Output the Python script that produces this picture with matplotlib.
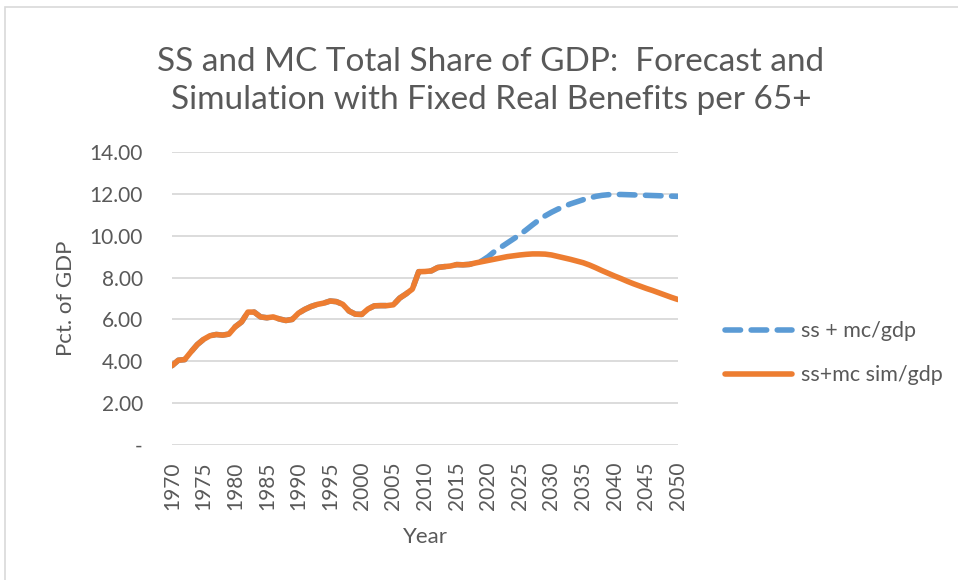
import matplotlib.pyplot as plt
import numpy as np
from matplotlib.patches import Rectangle

plt.rcParams['font.family'] = ['Lato', 'DejaVu Sans']

# annual data, 1970-2050
years = np.arange(1970, 2051)

sim = [3.79, 4.05, 4.08, 4.45, 4.80, 5.05, 5.22, 5.28, 5.25, 5.30,
       5.65, 5.88, 6.35, 6.35, 6.12, 6.08, 6.12, 6.02, 5.95, 6.00,
       6.30, 6.48, 6.62, 6.72, 6.78, 6.88, 6.85, 6.72, 6.40, 6.25,
       6.24, 6.50, 6.65, 6.66, 6.66, 6.70, 7.02, 7.22, 7.45, 8.28,
       8.29, 8.32, 8.48, 8.52, 8.55, 8.62, 8.61, 8.63, 8.70, 8.76,
       8.82, 8.88, 8.94, 9.00, 9.04, 9.08, 9.11, 9.13, 9.13, 9.12,
       9.08, 9.01, 8.94, 8.87, 8.79, 8.71, 8.60, 8.47, 8.33, 8.20,
       8.07, 7.95, 7.82, 7.70, 7.59, 7.48, 7.38, 7.27, 7.16, 7.05,
       6.95]

forecast_tail = [8.80, 9.00, 9.25, 9.45, 9.65, 9.85,
                 10.05, 10.28, 10.52, 10.75, 10.95, 11.12, 11.27, 11.40, 11.52, 11.62,
                 11.72, 11.80, 11.88, 11.93, 11.96, 11.97, 11.97, 11.96, 11.95, 11.94,
                 11.93, 11.92, 11.91, 11.90, 11.89, 11.88]
# forecast equals the sim series up to 2018
forecast = sim[:49] + forecast_tail

yticks = [0, 2, 4, 6, 8, 10, 12, 14]
ytick_labels = ['-', '2.00', '4.00', '6.00', '8.00', '10.00', '12.00', '14.00']
xticks = list(range(1970, 2051, 5))

grey = '#595959'
fig = plt.figure(figsize=(9.58, 5.80), dpi=100)
ax = fig.add_axes([172/958, 1-445/580, (678-172)/958, (445-152)/580])

# chart frame (partly off the picture)
fig.patches.append(Rectangle((5/958, -0.1), 1.2, 1 - 7/580 + 0.1, transform=fig.transFigure,
                             fill=False, edgecolor='#d9d9d9', linewidth=1.2))

ax.plot(years, forecast, color='#5b9bd5', linewidth=4.0, dashes=(2.8, 1.9),
        dash_capstyle='round', label='ss + mc/gdp', zorder=3)
ax.plot(years, sim, color='#ed7d31', linewidth=4.0, solid_capstyle='round',
        label='ss+mc sim/gdp', zorder=4)

ax.set_xlim(1970, 2050)
ax.set_ylim(0, 14)
ax.set_yticks(yticks)
ax.set_yticklabels(ytick_labels)
ax.set_xticks(xticks)
ax.set_xticklabels([str(x) for x in xticks], rotation=90)
ax.tick_params(axis='both', length=0, colors=grey, labelsize=15)
ax.tick_params(axis='y', pad=21)
ax.tick_params(axis='x', pad=12)
ax.grid(axis='y', color='#d9d9d9', linewidth=1.3)
ax.set_axisbelow(True)
for s in ax.spines.values():
    s.set_visible(False)

ax.set_ylabel('Pct. of GDP', fontsize=16, color=grey, labelpad=10)
ax.set_xlabel('Year', fontsize=16, color=grey, labelpad=12)

fig.text(491/958, 1-81/580, 'SS and MC Total Share of GDP:  Forecast and\nSimulation with Fixed Real Benefits per 65+',
         ha='center', va='center', fontsize=24, color=grey, linespacing=1.35)

fig.legend(loc='upper left', bbox_to_anchor=(706/958, 1-302/580), frameon=False,
           fontsize=15.5, labelcolor=grey, handlelength=3.1, labelspacing=1.1,
           handletextpad=0.4)

fig.savefig('out.png', dpi=100)
